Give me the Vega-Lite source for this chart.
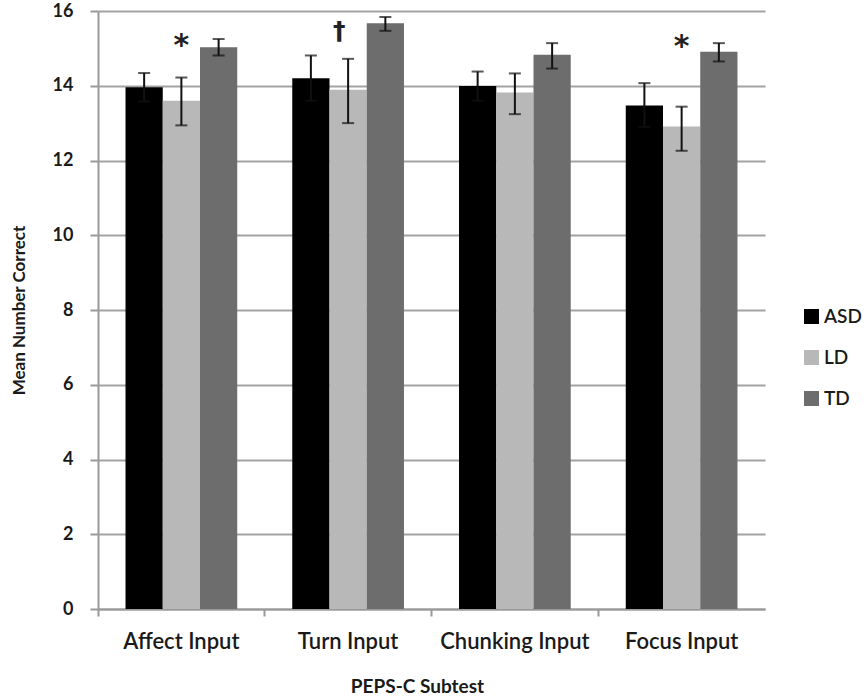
{
  "$schema": "https://vega.github.io/schema/vega-lite/v6.json",
  "width": 667,
  "height": 598,
  "autosize": {"type": "none"},
  "padding": {"left": 98, "top": 11, "right": 102, "bottom": 90},
  "background": "white",
  "config": {"view": {"stroke": null}, "font": "Lato"},
  "datasets": {
    "bars": [
      {"subtest": "Affect Input", "group": "ASD", "mean": 13.96, "lo": 13.58, "hi": 14.34},
      {"subtest": "Affect Input", "group": "LD", "mean": 13.6, "lo": 12.94, "hi": 14.22},
      {"subtest": "Affect Input", "group": "TD", "mean": 15.03, "lo": 14.81, "hi": 15.25},
      {"subtest": "Turn Input", "group": "ASD", "mean": 14.2, "lo": 13.6, "hi": 14.81},
      {"subtest": "Turn Input", "group": "LD", "mean": 13.89, "lo": 13.0, "hi": 14.72},
      {"subtest": "Turn Input", "group": "TD", "mean": 15.67, "lo": 15.47, "hi": 15.84},
      {"subtest": "Chunking Input", "group": "ASD", "mean": 13.99, "lo": 13.6, "hi": 14.38},
      {"subtest": "Chunking Input", "group": "LD", "mean": 13.82, "lo": 13.24, "hi": 14.33},
      {"subtest": "Chunking Input", "group": "TD", "mean": 14.83, "lo": 14.46, "hi": 15.14},
      {"subtest": "Focus Input", "group": "ASD", "mean": 13.47, "lo": 12.9, "hi": 14.07},
      {"subtest": "Focus Input", "group": "LD", "mean": 12.91, "lo": 12.26, "hi": 13.44},
      {"subtest": "Focus Input", "group": "TD", "mean": 14.91, "lo": 14.65, "hi": 15.14}
    ],
    "stars": [
      {"subtest": "Affect Input", "group": "LD", "y": 15.26, "label": "*"},
      {"subtest": "Focus Input", "group": "LD", "y": 15.23, "label": "*"}
    ],
    "daggers": [
      {"subtest": "Turn Input", "group": "LD", "y": 15.45, "label": "†"}
    ]
  },
  "encoding": {
    "x": {
      "field": "subtest",
      "type": "nominal",
      "sort": ["Affect Input", "Turn Input", "Chunking Input", "Focus Input"],
      "scale": {"paddingInner": 0.33, "paddingOuter": 0.165},
      "axis": {
        "title": "PEPS-C Subtest",
        "titleX": 319,
        "bandPosition": -0.246,
        "labelAngle": 0,
        "labelFontSize": 22,
        "labelFontWeight": 600,
        "labelColor": "#1a1a1a",
        "labelPadding": 15,
        "titleFontSize": 19,
        "titleFontWeight": "bold",
        "titleColor": "#1a1a1a",
        "titlePadding": 25,
        "domainColor": "#999999",
        "domainWidth": 2,
        "tickColor": "#999999",
        "tickWidth": 2,
        "tickSize": 7,
        "grid": false
      }
    },
    "xOffset": {
      "field": "group",
      "type": "nominal",
      "sort": ["ASD", "LD", "TD"],
      "scale": {"paddingInner": 0, "paddingOuter": 0}
    }
  },
  "layer": [
    {
      "data": {"name": "bars"},
      "mark": {"type": "bar"},
      "encoding": {
        "y": {
          "field": "mean",
          "type": "quantitative",
          "scale": {"domain": [0, 16], "nice": false},
          "axis": {
            "title": "Mean Number Correct",
            "values": [0, 2, 4, 6, 8, 10, 12, 14, 16],
            "grid": true,
            "gridColor": "#a3a3a3",
            "gridWidth": 2,
            "domainColor": "#999999",
            "domainWidth": 2,
            "tickColor": "#999999",
            "tickWidth": 2,
            "tickSize": 8,
            "labelPadding": 17,
            "labelFontSize": 18,
            "labelFontWeight": "bold",
            "labelColor": "#1a1a1a",
            "titleFontSize": 17,
            "titleFontWeight": "bold",
            "titleColor": "#1a1a1a",
            "titlePadding": 24
          }
        },
        "color": {
          "field": "group",
          "type": "nominal",
          "scale": {"domain": ["ASD", "LD", "TD"], "range": ["#000000", "#b8b8b8", "#6d6d6d"]},
          "legend": {
            "title": null,
            "orient": "none",
            "legendX": 704,
            "legendY": 296,
            "symbolType": "square",
            "symbolSize": 225,
            "symbolStrokeWidth": 0,
            "symbolOpacity": 1,
            "labelFontSize": 19,
            "labelFontWeight": 600,
            "labelColor": "#1a1a1a",
            "labelOffset": 3,
            "rowPadding": 21
          }
        }
      }
    },
    {
      "data": {"name": "bars"},
      "mark": {"type": "rule", "color": "#111111", "strokeWidth": 2},
      "encoding": {
        "y": {"field": "lo", "type": "quantitative"},
        "y2": {"field": "hi"}
      }
    },
    {
      "data": {"name": "bars"},
      "mark": {"type": "tick", "color": "#111111", "thickness": 2, "size": 12, "orient": "horizontal"},
      "encoding": {"y": {"field": "hi", "type": "quantitative"}}
    },
    {
      "data": {"name": "bars"},
      "mark": {"type": "tick", "color": "#111111", "thickness": 2, "size": 12, "orient": "horizontal"},
      "encoding": {"y": {"field": "lo", "type": "quantitative"}}
    },
    {
      "data": {"name": "stars"},
      "mark": {"type": "text", "font": "DejaVu Sans", "fontSize": 30, "fontWeight": "bold", "color": "#222222", "baseline": "alphabetic", "dy": 16},
      "encoding": {
        "y": {"field": "y", "type": "quantitative"},
        "text": {"field": "label"}
      }
    },
    {
      "data": {"name": "daggers"},
      "mark": {"type": "text", "font": "DejaVu Sans", "fontSize": 25, "fontWeight": "bold", "color": "#222222", "baseline": "alphabetic", "dy": 7, "dx": -9},
      "encoding": {
        "y": {"field": "y", "type": "quantitative"},
        "text": {"field": "label"}
      }
    }
  ]
}
